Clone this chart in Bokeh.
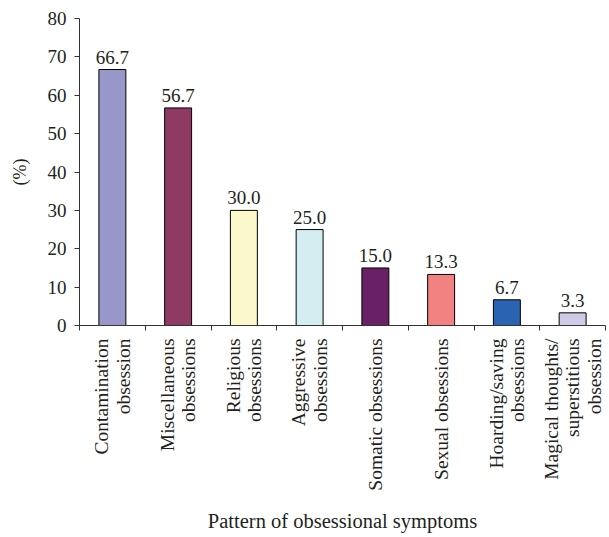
from bokeh.plotting import figure
from bokeh.layouts import column
from bokeh.models import FixedTicker, Range1d, ColumnDataSource, LabelSet
from bokeh.core.properties import value
from bokeh.embed import file_html
from bokeh.resources import INLINE
import math

categories = ["Contamination\nobsession", "Miscellaneous\nobsessions", "Religious\nobsessions",
              "Aggressive\nobsessions", "Somatic obsessions", "Sexual obsessions",
              "Hoarding/saving\nobsessions", "Magical thoughts/\nsuperstitious\nobsession"]
values = [66.7, 56.7, 30.0, 25.0, 15.0, 13.3, 6.7, 3.3]
colors = ["#9797CA", "#8E3A62", "#FBF9CB", "#D4EDF1", "#6A2064", "#F28282", "#2A63B1", "#CDCBE6"]
y_ticks = [0, 10, 20, 30, 40, 50, 60, 70, 80]
x_title = "Pattern of obsessional symptoms"

FONT = "Liberation Serif"
NUM_FS = "19px"
CAT_FS = "19.5px"
TITLE_FS = "20.5px"
TXT = "#231F20"
LEFT = 79
RIGHT = 4

n = len(categories)
xs = [i + 0.5 for i in range(n)]
src = ColumnDataSource(dict(x=xs, top=values, color=colors, lab=["%.1f" % v for v in values]))

H1 = 337
p = figure(width=609, height=H1, output_backend="svg", toolbar_location=None,
           x_range=Range1d(0, n), y_range=Range1d(0, 80),
           min_border_left=10, min_border_right=RIGHT, min_border_top=18, min_border_bottom=12)
p.outline_line_color = None
p.xgrid.visible = False
p.ygrid.visible = False
p.background_fill_color = "white"
p.border_fill_color = "white"

p.vbar(x="x", top="top", width=0.41, bottom=0, fill_color="color", line_color="black",
       line_width=1, source=src)

labels = LabelSet(x="x", y="top", text="lab", source=src, text_align="center",
                  text_baseline="bottom", y_offset=6, text_font=FONT, text_font_size=NUM_FS,
                  text_color=TXT)
p.add_layout(labels)

# y axis
ya = p.yaxis[0]
ya.ticker = FixedTicker(ticks=y_ticks)
ya.minor_tick_line_color = None
ya.major_tick_in = 0
ya.major_tick_out = 5
ya.axis_label = "(%)"
ya.axis_label_text_font = FONT
ya.axis_label_text_font_size = "18px"
ya.axis_label_text_font_style = "normal"
ya.axis_label_text_color = TXT
ya.axis_label_standoff = 15
ya.major_label_text_font = FONT
ya.major_label_text_font_size = NUM_FS
ya.major_label_text_color = TXT
ya.major_label_standoff = 8
ya.axis_line_color = "#333333"
ya.major_tick_line_color = "#333333"

# x axis with separator ticks
xa = p.xaxis[0]
xa.ticker = FixedTicker(ticks=list(range(n + 1)))
xa.minor_tick_line_color = None
xa.major_tick_in = 0
xa.major_tick_out = 5
xa.major_label_text_font_size = "0px"
xa.major_label_standoff = 0
xa.axis_line_color = "#333333"
xa.major_tick_line_color = "#333333"

# lower panel: category labels and x title, sharing the x range
H2 = 537 - H1
p2 = figure(width=609, height=H2, output_backend="svg", toolbar_location=None,
            x_range=p.x_range, y_range=Range1d(0, H2),
            x_axis_location=None, y_axis_location=None,
            min_border_left=LEFT, min_border_right=RIGHT, min_border_top=0, min_border_bottom=0)
p2.outline_line_color = None
p2.xgrid.visible = False
p2.ygrid.visible = False
p2.background_fill_color = "white"
p2.border_fill_color = "white"

cat_src = ColumnDataSource(dict(x=xs, y=[H2 - 1] * n, t=categories))
p2.text(x="x", y="y", text="t", source=cat_src, angle=math.pi / 2, text_align="right",
        text_baseline="middle", text_font=value(FONT), text_font_size=value(CAT_FS),
        text_color=TXT, text_line_height=1.02)
p2.text(x=[n / 2], y=[H2 - 183], text=[x_title], text_align="center", text_baseline="middle",
        text_font=value(FONT), text_font_size=value(TITLE_FS), text_color=TXT)

layout = column(p, p2, spacing=0)
open("out.html", "w").write(file_html(layout, INLINE))
